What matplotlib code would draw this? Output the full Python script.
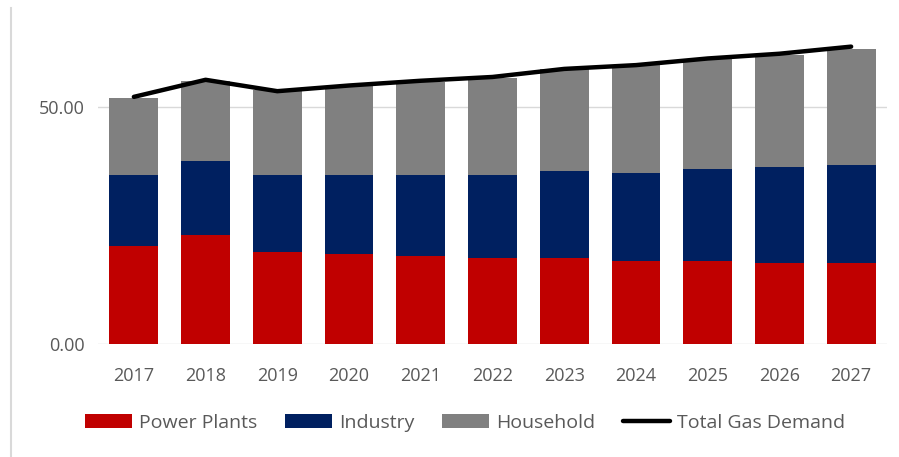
import matplotlib
matplotlib.use("Agg")
import matplotlib.pyplot as plt
from matplotlib.lines import Line2D
import numpy as np

years = ["2017", "2018", "2019", "2020", "2021", "2022", "2023", "2024", "2025", "2026", "2027"]
power_plants = [20.7, 23.1, 19.5, 19.0, 18.6, 18.3, 18.3, 17.5, 17.5, 17.1, 17.1]
industry = [15.1, 15.5, 16.3, 16.8, 17.2, 17.5, 18.3, 18.7, 19.5, 20.4, 20.7]
household = [16.2, 17.0, 17.8, 18.7, 19.6, 20.3, 21.4, 22.7, 23.1, 23.5, 24.5]
total = [52.2, 55.8, 53.4, 54.6, 55.6, 56.4, 58.1, 58.9, 60.3, 61.3, 62.8]

plt.rcParams['font.family'] = ['Open Sans', 'DejaVu Sans']
txt = '#595959'

W, H = 899, 457
fig = plt.figure(figsize=(W / 100, H / 100), dpi=100)
ppu = 4.74
ymax = 70
ax = fig.add_axes([98 / W, (H - 344.3) / H, (887 - 98) / W, ymax * ppu / H])

x = np.arange(len(years))
w = 0.68
b1 = ax.bar(x, power_plants, w, color='#C00000', label='Power Plants', zorder=2)
bottom2 = np.array(power_plants)
b2 = ax.bar(x, industry, w, bottom=bottom2, color='#002060', label='Industry', zorder=2)
bottom3 = bottom2 + np.array(industry)
b3 = ax.bar(x, household, w, bottom=bottom3, color='#808080', label='Household', zorder=2)
l1, = ax.plot(x, total, color='black', lw=3.2, label='Total Gas Demand', zorder=3,
              solid_capstyle='round')

ax.set_xlim(-0.5, len(years) - 0.5)
ax.set_ylim(0, ymax)
ax.set_yticks([0, 50])
ax.set_yticklabels(['0.00', '50.00'])
ax.set_xticks(x)
ax.set_xticklabels(years)
for s in ax.spines.values():
    s.set_visible(False)
ax.grid(axis='y', color='#D9D9D9', lw=1, zorder=0)
ax.tick_params(axis='both', length=0, labelsize=13, colors=txt)
ax.tick_params(axis='x', pad=16.5)
ax.tick_params(axis='y', pad=9.4)

fig.legend(handles=[b1, b2, b3, l1], loc='center', bbox_to_anchor=(465 / W, 1 - 423 / H),
           ncol=4, frameon=False, fontsize=14, labelcolor=txt, handlelength=2.4,
           handleheight=0.7, handletextpad=0.36, columnspacing=1.45)

fig.add_artist(Line2D([11 / W, 11 / W], [0, 1 - 8 / H], color='#D9D9D9', lw=1.5))

fig.savefig('out.png', dpi=100)
